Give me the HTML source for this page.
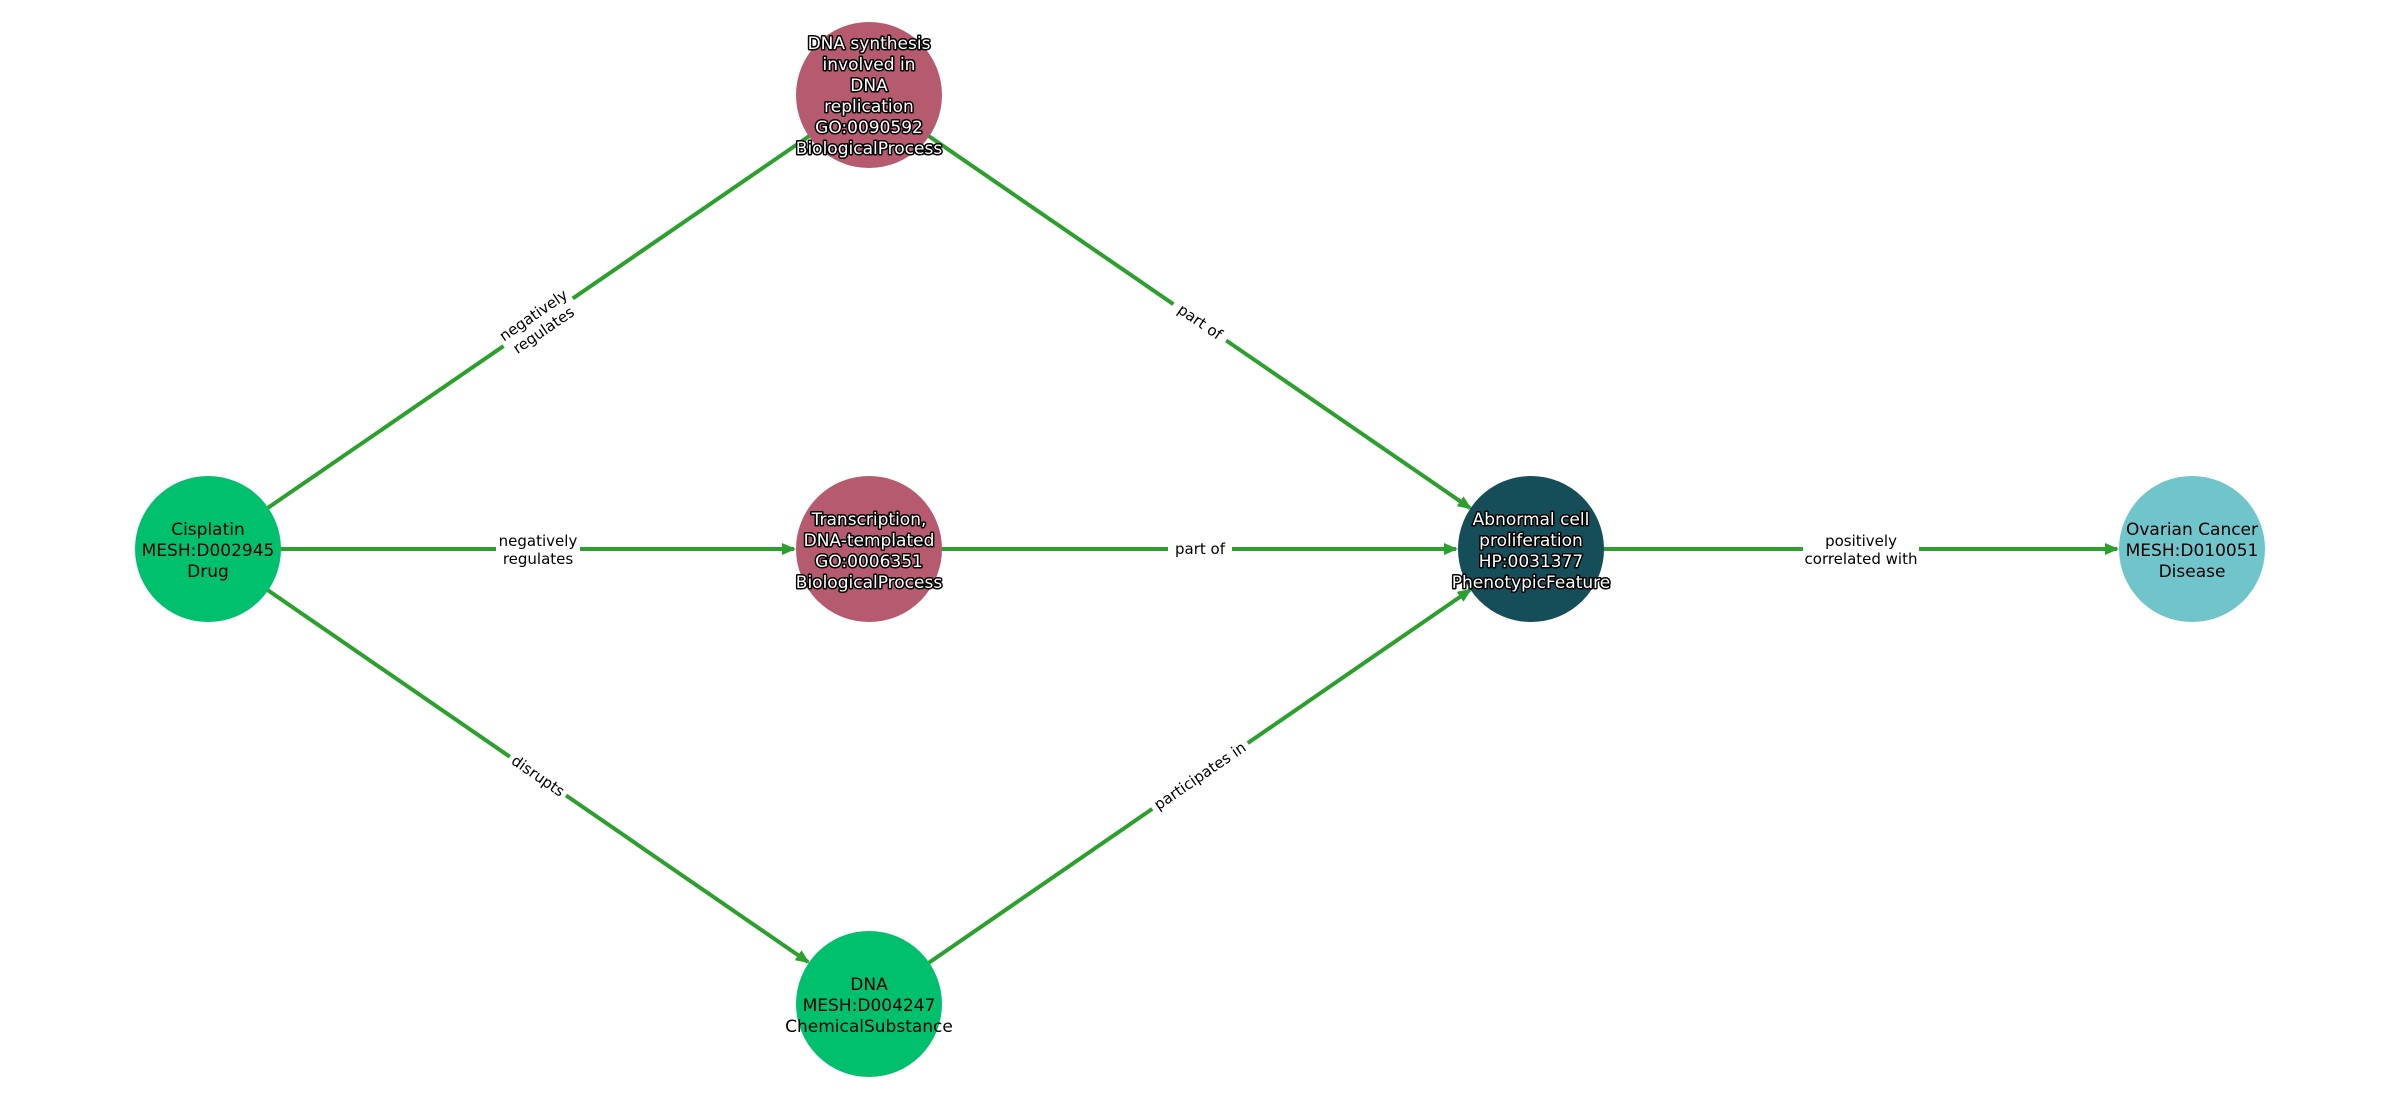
<!DOCTYPE html>
<html><head><meta charset="utf-8"><style>
html,body{margin:0;padding:0;background:#fff;}
svg{display:block;}
.n{font-family:"DejaVu Sans","Liberation Sans",sans-serif;font-size:17px;text-anchor:middle;}
.w{fill:#fff;stroke:#000;stroke-width:3px;paint-order:stroke;stroke-linejoin:round;}
.e{font-family:"DejaVu Sans","Liberation Sans",sans-serif;font-size:15px;text-anchor:middle;fill:#000;}
line{stroke:#2ca02c;stroke-width:4;}
</style></head><body>
<svg width="2400" height="1100" viewBox="0 0 2400 1100" xmlns="http://www.w3.org/2000/svg">
<defs><marker id="a" markerWidth="3.5" markerHeight="3" refX="3" refY="1.5" orient="auto" markerUnits="strokeWidth"><path d="M0,0 L3.5,1.5 L0,3 z" fill="#2ca02c"/></marker></defs>
<line x1="208" y1="549" x2="869" y2="95"/>
<line x1="869" y1="95" x2="1470" y2="508" marker-end="url(#a)"/>
<line x1="208" y1="549" x2="794" y2="549" marker-end="url(#a)"/>
<line x1="869" y1="549" x2="1456" y2="549" marker-end="url(#a)"/>
<line x1="208" y1="549" x2="808" y2="962" marker-end="url(#a)"/>
<line x1="869" y1="1004" x2="1470" y2="590" marker-end="url(#a)"/>
<line x1="1531" y1="549" x2="2117" y2="549" marker-end="url(#a)"/>
<g transform="translate(538,322) rotate(-34.5)"><rect x="-42" y="-20" width="84" height="40" fill="#fff"/><text class="e" y="-3">negatively</text><text class="e" y="15">regulates</text></g>
<g transform="translate(1200,322) rotate(34.5)"><rect x="-32" y="-11" width="64" height="22" fill="#fff"/><text class="e" y="5">part of</text></g>
<g transform="translate(538,549)"><rect x="-42" y="-20" width="84" height="40" fill="#fff"/><text class="e" y="-3">negatively</text><text class="e" y="15">regulates</text></g>
<g transform="translate(1200,549)"><rect x="-32" y="-11" width="64" height="22" fill="#fff"/><text class="e" y="5">part of</text></g>
<g transform="translate(538,776) rotate(34.5)"><rect x="-34" y="-11" width="68" height="22" fill="#fff"/><text class="e" y="5">disrupts</text></g>
<g transform="translate(1200,776) rotate(-34.5)"><rect x="-58" y="-11" width="116" height="22" fill="#fff"/><text class="e" y="5">participates in</text></g>
<g transform="translate(1861,549)"><rect x="-58" y="-20" width="116" height="40" fill="#fff"/><text class="e" y="-3">positively</text><text class="e" y="15">correlated with</text></g>
<circle cx="208" cy="549" r="73" fill="#00c06e"/>
<text class="n"><tspan x="208" y="535">Cisplatin</tspan><tspan x="208" y="556">MESH:D002945</tspan><tspan x="208" y="577">Drug</tspan></text>
<circle cx="869" cy="95" r="73" fill="#b65a6f"/>
<text class="n w"><tspan x="869" y="49">DNA synthesis</tspan><tspan x="869" y="70">involved in</tspan><tspan x="869" y="91">DNA</tspan><tspan x="869" y="112">replication</tspan><tspan x="869" y="133">GO:0090592</tspan><tspan x="869" y="154">BiologicalProcess</tspan></text>
<circle cx="869" cy="549" r="73" fill="#b65a6f"/>
<text class="n w"><tspan x="869" y="525">Transcription,</tspan><tspan x="869" y="546">DNA-templated</tspan><tspan x="869" y="567">GO:0006351</tspan><tspan x="869" y="588">BiologicalProcess</tspan></text>
<circle cx="869" cy="1004" r="73" fill="#00c06e"/>
<text class="n"><tspan x="869" y="990">DNA</tspan><tspan x="869" y="1011">MESH:D004247</tspan><tspan x="869" y="1032">ChemicalSubstance</tspan></text>
<circle cx="1531" cy="549" r="73" fill="#154e58"/>
<text class="n w"><tspan x="1531" y="525">Abnormal cell</tspan><tspan x="1531" y="546">proliferation</tspan><tspan x="1531" y="567">HP:0031377</tspan><tspan x="1531" y="588">PhenotypicFeature</tspan></text>
<circle cx="2192" cy="549" r="73" fill="#70c5cb"/>
<text class="n"><tspan x="2192" y="535">Ovarian Cancer</tspan><tspan x="2192" y="556">MESH:D010051</tspan><tspan x="2192" y="577">Disease</tspan></text>
</svg>
</body></html>
